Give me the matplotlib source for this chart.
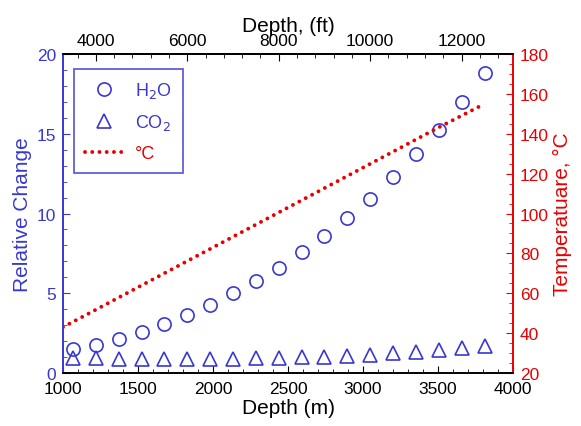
import numpy as np
import matplotlib
matplotlib.use("Agg")
import matplotlib.pyplot as plt
from matplotlib.lines import Line2D
from matplotlib.ticker import MultipleLocator

plt.rcParams['font.family'] = ['Liberation Sans', 'DejaVu Sans']

# depth of samples, ft (3500 .. 12500 every 500 ft)
depth_ft = [3500, 4000, 4500, 5000, 5500, 6000, 6500, 7000, 7500, 8000,
            8500, 9000, 9500, 10000, 10500, 11000, 11500, 12000, 12500]
depth_m = [d * 0.3048 for d in depth_ft]
h2o = [1.5, 1.75, 2.13, 2.57, 3.07, 3.65, 4.28, 5.0, 5.75, 6.58,
       7.57, 8.57, 9.7, 10.9, 12.27, 13.7, 15.25, 17.0, 18.8]
co2 = [0.95, 0.93, 0.9, 0.88, 0.88, 0.88, 0.89, 0.9, 0.92, 0.95,
       0.98, 1.03, 1.08, 1.15, 1.23, 1.33, 1.44, 1.58, 1.7]
# temperature profile
temp_depth = [1000, 1500, 2000, 2500, 3000, 3500, 3810]
temp_c = [43, 63, 83, 103, 123, 143, 155]

blue = '#3838d0'
red = '#e80000'
tick_fs = 12.5
label_fs = 15

fig = plt.figure(figsize=(5.81, 4.27), dpi=100)
ax = fig.add_axes([0.1084, 0.1241, 0.7746, 0.7471])
ax2 = ax.twinx()

ax.plot(depth_m, h2o, 'o', mfc='none', mec=blue, ms=9.5, mew=1.2, zorder=3)
ax.plot(depth_m, co2, '^', mfc='none', mec=blue, ms=9.5, mew=1.2, zorder=3)
ax2.plot(temp_depth, temp_c, color=red, lw=2.8, linestyle=(0, (0.01, 1.85)),
         dash_capstyle='round')

ax.set_xlim(1000, 4000)
ax.set_ylim(0, 20)
ax2.set_ylim(20, 180)

ax.xaxis.set_major_locator(MultipleLocator(500))
ax.xaxis.set_minor_locator(MultipleLocator(100))
ax.yaxis.set_major_locator(MultipleLocator(5))
ax.yaxis.set_minor_locator(MultipleLocator(1))
ax2.yaxis.set_major_locator(MultipleLocator(20))
ax2.yaxis.set_minor_locator(MultipleLocator(5))

ax.tick_params(axis='x', which='both', direction='in', labelsize=tick_fs, pad=6)
ax.tick_params(axis='x', which='major', length=5)
ax.tick_params(axis='x', which='minor', length=3)
ax.tick_params(axis='y', which='both', direction='in', colors=blue, labelsize=tick_fs, pad=5)
ax.tick_params(axis='y', which='major', length=5)
ax.tick_params(axis='y', which='minor', length=3)
ax2.tick_params(axis='y', which='both', direction='in', colors=red, labelsize=tick_fs, pad=5)
ax2.tick_params(axis='y', which='major', length=5)
ax2.tick_params(axis='y', which='minor', length=3)

for a in (ax, ax2):
    a.spines['left'].set_color(blue)
    a.spines['right'].set_color(red)
    for s in a.spines.values():
        s.set_linewidth(1.2)

ax.set_xlabel('Depth (m)', fontsize=label_fs, labelpad=1)
ax.set_ylabel('Relative Change', fontsize=label_fs, color=blue, labelpad=3)
ax2.set_ylabel('Temperatuare, °C', fontsize=label_fs, color=red, labelpad=3)

top = ax.secondary_xaxis('top', functions=(lambda m: m / 0.3048, lambda f: f * 0.3048))
top.xaxis.set_major_locator(MultipleLocator(2000))
top.xaxis.set_minor_locator(MultipleLocator(400))
top.tick_params(axis='x', which='both', direction='in', labelsize=tick_fs, pad=4)
top.tick_params(axis='x', which='major', length=5)
top.tick_params(axis='x', which='minor', length=3)
top.spines['top'].set_linewidth(1.2)
top.set_xlabel('Depth, (ft)', fontsize=label_fs, labelpad=2)

handles = [
    Line2D([], [], marker='o', ls='none', mfc='none', mec=blue, ms=9.5, mew=1.2),
    Line2D([], [], marker='^', ls='none', mfc='none', mec=blue, ms=9.5, mew=1.2),
    Line2D([], [], color=red, lw=2.8, linestyle=(0, (0.01, 1.85)), dash_capstyle='round'),
]
leg = ax.legend(handles, ['H$_2$O', 'CO$_2$', '°C'], loc='upper left',
                bbox_to_anchor=(0.024, 0.953), fancybox=False, fontsize=13,
                handlelength=2.2, borderpad=0.6, labelspacing=0.7, handletextpad=0.6,
                borderaxespad=0)
leg.get_frame().set_edgecolor(blue)
leg.get_frame().set_linewidth(1.3)
for t, c in zip(leg.get_texts(), [blue, blue, red]):
    t.set_color(c)

fig.savefig('out.png', dpi=100)
